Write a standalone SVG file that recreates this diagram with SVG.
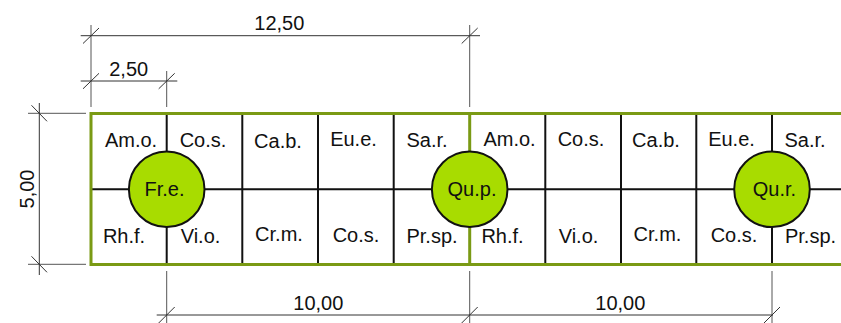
<svg xmlns="http://www.w3.org/2000/svg" width="841" height="323" viewBox="0 0 841 323">
<style>
.dim{stroke:#333;stroke-width:1;fill:none}
.ext{stroke:#555;stroke-width:1;fill:none}
.grid{stroke:#111;stroke-width:2;fill:none}
.border{stroke:#7a9a14;stroke-width:3;fill:none}
.tree{fill:#a8dc00;stroke:#111;stroke-width:2}
text{font-family:"Liberation Sans",Arial,sans-serif;font-size:20px;fill:#111;text-anchor:middle}
</style>
<rect width="841" height="323" fill="#fff"/>
<g id="grid">
<path class="grid" d="M91,189.3H841 M166.7,113.5V264.5 M242.3,113.5V264.5 M318,113.5V264.5 M393.7,113.5V264.5 M545.3,113.5V264.5 M621,113.5V264.5 M696.3,113.5V264.5 M772,113.5V264.5"/>
<path class="border" d="M469.7,113.5V264.5"/>
<path class="border" d="M841,113.5H91V264.5H841"/>
</g>
<g id="cells">
<text x="131" y="146.5">Am.o.</text>
<text x="203" y="146.5">Co.s.</text>
<text x="278" y="147.5">Ca.b.</text>
<text x="353.5" y="146">Eu.e.</text>
<text x="427" y="146.5">Sa.r.</text>
<text x="124" y="243">Rh.f.</text>
<text x="200.5" y="243">Vi.o.</text>
<text x="279" y="241">Cr.m.</text>
<text x="356" y="241.5">Co.s.</text>
<text x="432" y="243">Pr.sp.</text>
<text x="509.5" y="146">Am.o.</text>
<text x="581" y="146">Co.s.</text>
<text x="656" y="147">Ca.b.</text>
<text x="731.5" y="146">Eu.e.</text>
<text x="805" y="146.5">Sa.r.</text>
<text x="502.5" y="243">Rh.f.</text>
<text x="578.5" y="243">Vi.o.</text>
<text x="657.5" y="241">Cr.m.</text>
<text x="734" y="241.5">Co.s.</text>
<text x="810.5" y="243">Pr.sp.</text>
</g>
<g id="tree-fre">
<circle class="tree" cx="166.7" cy="189.3" r="37.8"/>
<text x="164.5" y="195.5">Fr.e.</text>
</g>
<g id="tree-qup">
<circle class="tree" cx="469.7" cy="189.3" r="37.8"/>
<text x="472" y="195.5">Qu.p.</text>
</g>
<g id="tree-qur">
<circle class="tree" cx="772" cy="189.3" r="37.8"/>
<text x="774.5" y="195.5">Qu.r.</text>
</g>
<g id="dimensions">
<path class="ext" d="M91,25V107 M469.7,25V107 M166.7,71V107 M28,113.3H86 M28,264.3H86 M166.7,271V323 M469.7,271V323 M772,271V323"/>
<path class="dim" d="M80.7,35.7H480 M80.7,81H177.3 M39.3,103V275 M156.7,315H773"/>
<path class="dim" d="M83,43.5L99,28 M83,88.8L99,73.3 M158.7,88.8L174.7,73.3 M461.7,43.5L477.7,28 M31.5,105.3L47,121.3 M31.5,256.3L47,272.3 M158.7,323L174.7,307 M461.7,323L477.7,307 M764,323L780,307"/>
<text x="279.3" y="30">12,50</text>
<text x="128.7" y="75.5">2,50</text>
<text x="318.3" y="310">10,00</text>
<text x="620.3" y="310">10,00</text>
<text transform="translate(34,189) rotate(-90)">5,00</text>
</g>
</svg>
